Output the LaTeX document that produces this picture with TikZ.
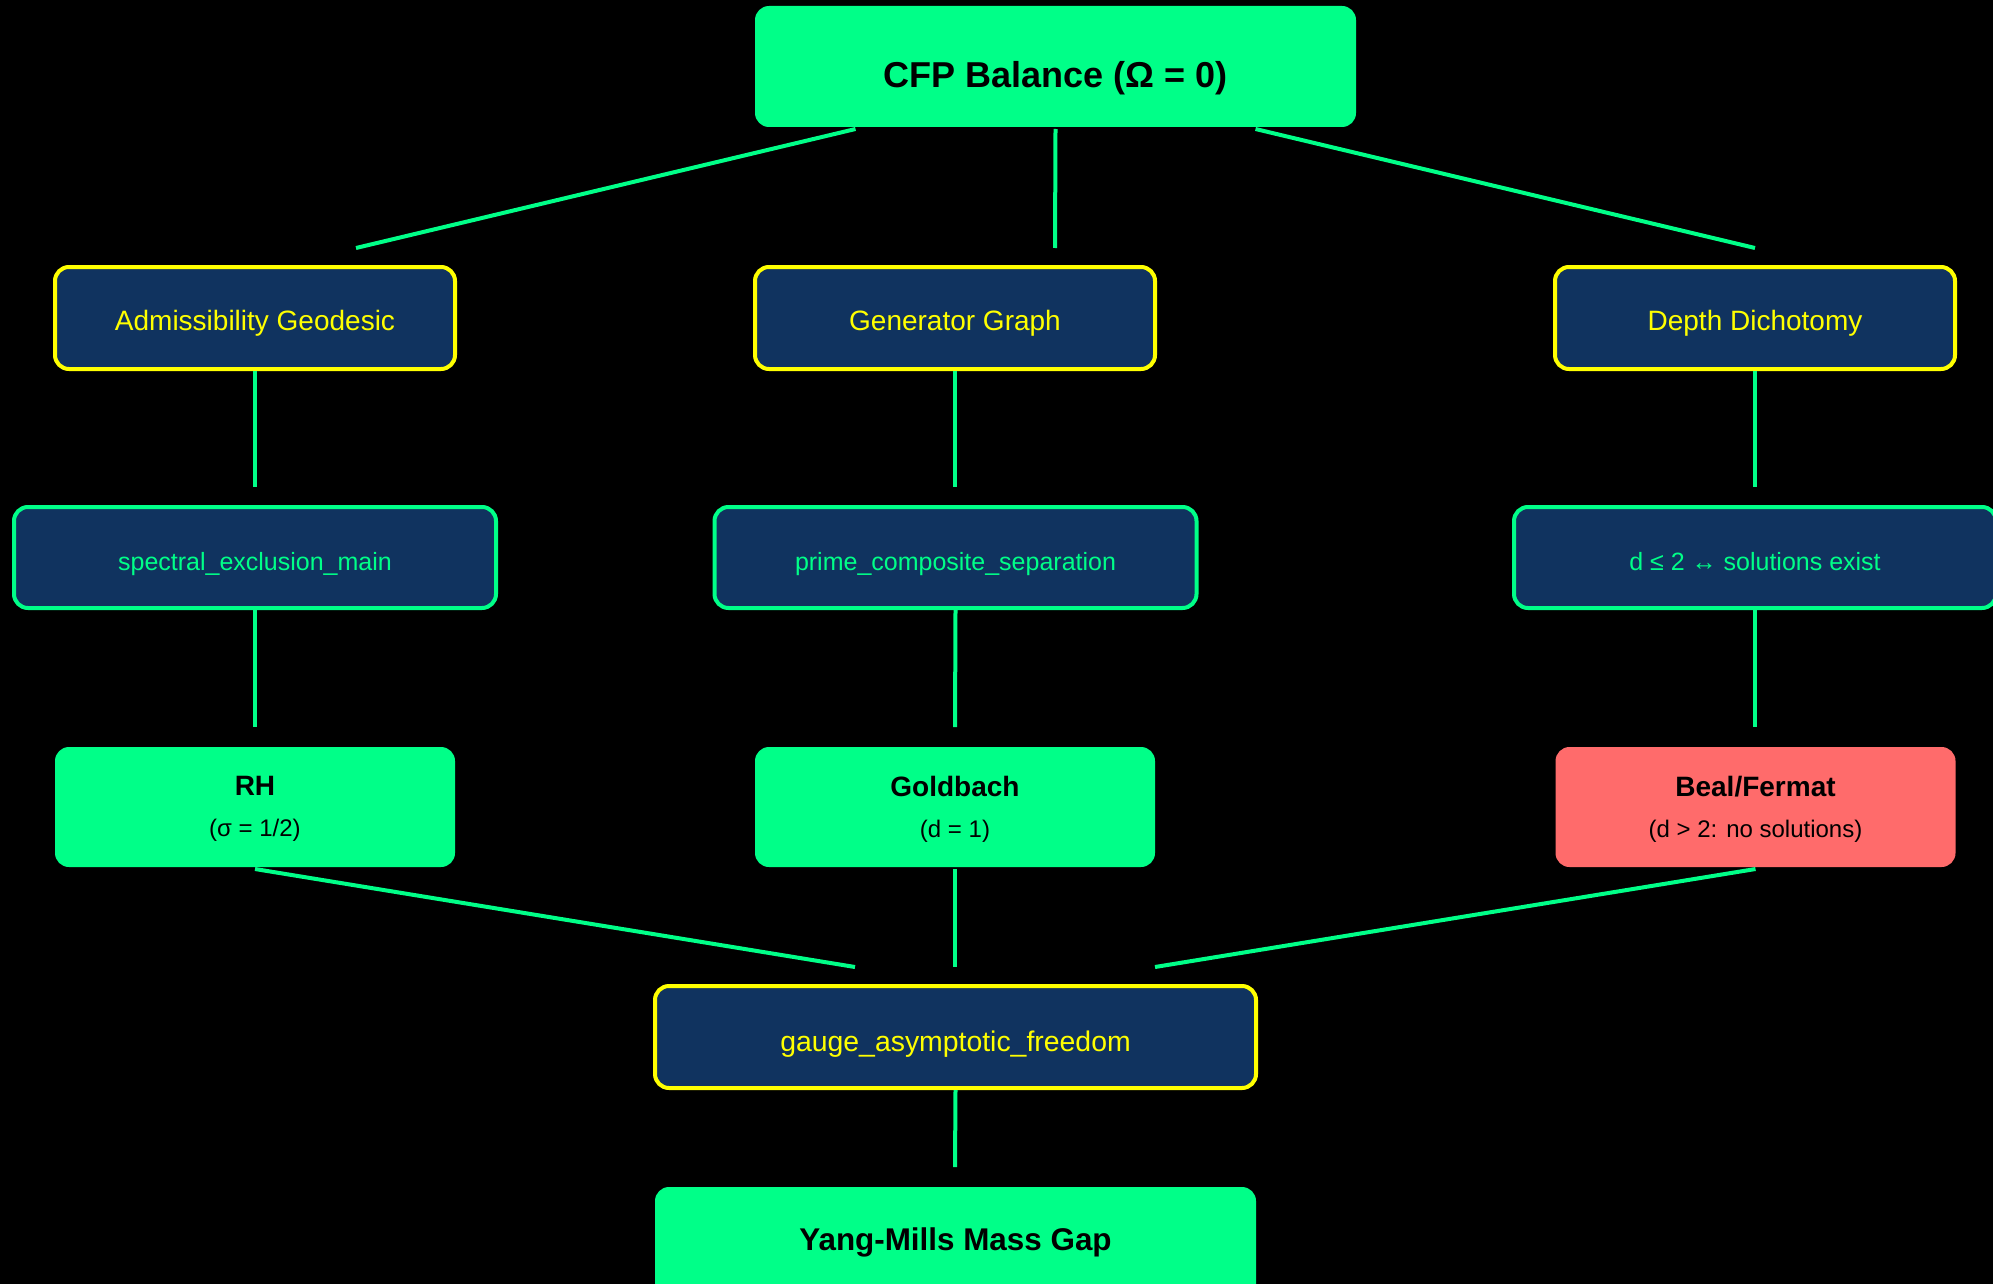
\documentclass[tikz,border=0pt]{standalone}
\usepackage{fontspec}
\setmainfont{Liberation Sans}
\usetikzlibrary{calc}
\definecolor{cgreen}{HTML}{00FF88}
\definecolor{cnavy}{HTML}{10335F}
\definecolor{cyell}{HTML}{FFFF00}
\definecolor{cred}{HTML}{FF6B6B}
\tikzset{
  base/.style={rounded corners=14pt, inner sep=0pt, align=center, line width=4pt},
  topbox/.style={base, fill=cgreen, text=black, minimum width=601pt, minimum height=121pt,
    font=\bfseries\fontsize{36}{43}\selectfont},
  ybox/.style={base, fill=cnavy, draw=cyell, text=cyell, minimum width=400pt, minimum height=102pt,
    font=\fontsize{28}{34}\selectfont},
  gbox/.style={base, fill=cnavy, draw=cgreen, text=cgreen, minimum width=482pt, minimum height=101pt,
    font=\fontsize{25}{30}\selectfont},
  resbox/.style={base, fill=cgreen, text=black, minimum width=400pt, minimum height=120pt,
    font=\fontsize{24}{41}\selectfont},
  link/.style={draw=cgreen, line width=4pt},
}
\newcommand{\ttl}[1]{{\bfseries\fontsize{28}{34}\selectfont #1}}
\newcommand{\dn}[2]{\raisebox{-#1}[\height][\depth]{#2}}
\begin{document}
\begin{tikzpicture}[x=1pt,y=-1pt]
\fill[black] (0,0) rectangle (1993,1284);
\useasboundingbox (0,0) rectangle (1993,1284);

\node[topbox] (cfp) at (1055.5,66.5) {\dn{12pt}{CFP Balance (Ω = 0)}};

\node[ybox] (adm) at (255,318) {\dn{5pt}{Admissibility Geodesic}};
\node[ybox] (gen) at (955,318) {\dn{5pt}{Generator Graph}};
\node[ybox] (dep) at (1755,318) {\dn{5pt}{Depth Dichotomy}};

\node[gbox] (spec) at (255,557.5) {\dn{7pt}{spectral\_exclusion\_main}};
\node[gbox] (prime) at (955.5,557.5) {\dn{7pt}{prime\_composite\_separation}};
\node[gbox] (dle) at (1755,557.5) {\dn{4pt}{d ≤ 2 ↔ solutions exist}};

\node[resbox] (rh) at (255,807) {\dn{2pt}{\ttl{RH}}\\\dn{2pt}{(σ = 1/2)}};
\node[resbox] (gold) at (955,807) {\dn{2pt}{\ttl{Goldbach}}\\\dn{2pt}{(d = 1)}};
\node[resbox, fill=cred] (beal) at (1755.5,807) {\dn{2pt}{\ttl{Beal/Fermat}}\\\dn{2pt}{(d > 2: no solutions)}};

\node[ybox, minimum width=601pt, font=\fontsize{28.4}{34}\selectfont] (gauge) at (955.5,1037) {\dn{7pt}{gauge\_asymptotic\_freedom}};
\node[topbox, font=\bfseries\fontsize{31.4}{37}\selectfont] (ym) at (955.5,1247.5) {\dn{-5pt}{Yang-Mills Mass Gap}};

\coordinate (e1) at (356,248);
\coordinate (e2) at (1055,248);
\coordinate (e3) at (1755,248);
\coordinate (e4) at (255,487);
\coordinate (e5) at (955,487);
\coordinate (e6) at (1755,487);
\coordinate (e7) at (255,727);
\coordinate (e8) at (955,727);
\coordinate (e9) at (1755,727);
\coordinate (e10) at (855,967);
\coordinate (e11) at (955,967);
\coordinate (e12) at (1155,967);
\coordinate (e13) at (955,1167);

\draw[link] ($(cfp.south)+(-200,0)$) -- (e1);
\draw[link] (cfp.south) -- (e2);
\draw[link] ($(cfp.south)+(200,0)$) -- (e3);
\draw[link] (adm.south) -- (e4);
\draw[link] (gen.south) -- (e5);
\draw[link] (dep.south) -- (e6);
\draw[link] (spec.south) -- (e7);
\draw[link] (prime.south) -- (e8);
\draw[link] (dle.south) -- (e9);
\draw[link] (rh.south) -- (e10);
\draw[link] (gold.south) -- (e11);
\draw[link] (beal.south) -- (e12);
\draw[link] (gauge.south) -- (e13);
\end{tikzpicture}
\end{document}
